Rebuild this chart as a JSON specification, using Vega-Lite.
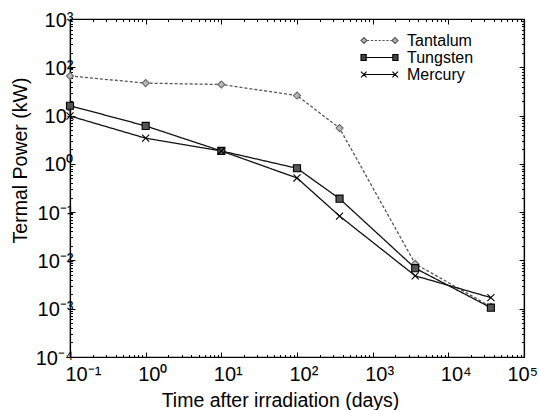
{
  "$schema": "https://vega.github.io/schema/vega-lite/v6.json",
  "width": 454,
  "height": 338,
  "autosize": {"type": "none"},
  "padding": {"left": 70, "top": 19, "right": 15, "bottom": 53},
  "background": "white",
  "config": {
    "view": {"stroke": "black", "strokeWidth": 1.2},
    "axis": {
      "domainColor": "black",
      "domainWidth": 1.2,
      "tickColor": "black",
      "grid": false,
      "labelFont": "Liberation Sans",
      "labelFontSize": 20,
      "labelColor": "black",
      "titleFont": "Liberation Sans",
      "titleFontSize": 19.5,
      "titleFontWeight": "normal",
      "titleColor": "black"
    },
    "legend": {"labelFont": "Liberation Sans", "labelFontSize": 16, "labelColor": "black"}
  },
  "data": {
    "values": [
      {"material": "Tantalum", "days": 0.1, "power": 66},
      {"material": "Tantalum", "days": 1, "power": 47},
      {"material": "Tantalum", "days": 10, "power": 44},
      {"material": "Tantalum", "days": 100, "power": 26},
      {"material": "Tantalum", "days": 365, "power": 5.5},
      {"material": "Tantalum", "days": 3650, "power": 0.0085},
      {"material": "Tantalum", "days": 36500, "power": 0.0011},
      {"material": "Tungsten", "days": 0.1, "power": 16},
      {"material": "Tungsten", "days": 1, "power": 6.1},
      {"material": "Tungsten", "days": 10, "power": 1.85},
      {"material": "Tungsten", "days": 100, "power": 0.81},
      {"material": "Tungsten", "days": 365, "power": 0.19},
      {"material": "Tungsten", "days": 3650, "power": 0.0069},
      {"material": "Tungsten", "days": 36500, "power": 0.00105},
      {"material": "Mercury", "days": 0.1, "power": 9.8},
      {"material": "Mercury", "days": 1, "power": 3.4},
      {"material": "Mercury", "days": 10, "power": 1.85},
      {"material": "Mercury", "days": 100, "power": 0.51},
      {"material": "Mercury", "days": 365, "power": 0.083},
      {"material": "Mercury", "days": 3650, "power": 0.0048},
      {"material": "Mercury", "days": 36500, "power": 0.0017}
    ]
  },
  "layer": [
    {
      "mark": {"type": "line", "strokeWidth": 1.3},
      "encoding": {
        "x": {
          "field": "days", "type": "quantitative",
          "scale": {"type": "log", "domain": [0.1, 100000], "nice": false},
          "axis": {
            "orient": "bottom",
            "title": "Time after irradiation (days)",
            "titlePadding": 5,
            "titleAnchor": "middle",
            "titleX": 210,
            "values": [0.1,0.2,0.3,0.4,0.5,0.6,0.7,0.8,0.9,1,2,3,4,5,6,7,8,9,10,20,30,40,50,60,70,80,90,100,200,300,400,500,600,700,800,900,1000,2000,3000,4000,5000,6000,7000,8000,9000,10000,20000,30000,40000,50000,60000,70000,80000,90000,100000],
            "labelExpr": "abs(log(datum.value)/LN10 - round(log(datum.value)/LN10)) < 0.001 ? '10' + replace(replace(replace(replace(replace(replace(replace('' + round(log(datum.value)/LN10), '-', '⁻'), '0', '⁰'), '1', '¹'), '2', '²'), '3', '³'), '4', '⁴'), '5', '⁵') : ''",
            "labelOverlap": false,
            "labelFlush": false,
            "labelAlign": "left",
            "labelOffset": {"condition": [
              {"test": "datum.value > 50000", "value": -17},
              {"test": "datum.value < 0.15", "value": -5}
            ], "value": -8},
            "labelPadding": 12,
            "tickSize": {"condition": {"test": "abs(log(datum.value)/LN10 - round(log(datum.value)/LN10)) < 0.001", "value": -5}, "value": -2.5}
          }
        },
        "y": {
          "field": "power", "type": "quantitative",
          "scale": {"type": "log", "domain": [0.0001, 1000], "nice": false},
          "axis": {
            "orient": "left",
            "title": "Termal Power (kW)",
            "titlePadding": 5,
            "titleAnchor": "middle",
            "titleY": 141,
            "values": [0.0001,0.0002,0.0003,0.0004,0.0005,0.0006,0.0007,0.0008,0.0009,0.001,0.002,0.003,0.004,0.005,0.006,0.007,0.008,0.009,0.01,0.02,0.03,0.04,0.05,0.06,0.07,0.08,0.09,0.1,0.2,0.3,0.4,0.5,0.6,0.7,0.8,0.9,1,2,3,4,5,6,7,8,9,10,20,30,40,50,60,70,80,90,100,200,300,400,500,600,700,800,900,1000],
            "labelExpr": "abs(log(datum.value)/LN10 - round(log(datum.value)/LN10)) < 0.001 ? '10' + replace(replace(replace(replace(replace(replace(replace('' + round(log(datum.value)/LN10), '-', '⁻'), '0', '⁰'), '1', '¹'), '2', '²'), '3', '³'), '4', '⁴'), '5', '⁵') : ''",
            "labelOverlap": false,
            "labelFlush": false,
            "labelPadding": 2,
            "labelOffset": 1,
            "tickSize": {"condition": {"test": "abs(log(datum.value)/LN10 - round(log(datum.value)/LN10)) < 0.001", "value": -5}, "value": -2.5}
          }
        },
        "detail": {"field": "material"},
        "stroke": {"condition": {"test": "datum.material == 'Tantalum'", "value": "#555555"}, "value": "#111111"},
        "strokeDash": {"condition": {"test": "datum.material == 'Tantalum'", "value": [3, 2]}, "value": [1, 0]}
      }
    },
    {
      "mark": {"type": "point", "strokeWidth": 1.1, "size": 50, "opacity": 1},
      "encoding": {
        "x": {
          "field": "days", "type": "quantitative",
          "axis": {
            "orient": "top", "title": null, "labels": false,
            "values": [0.1,0.2,0.3,0.4,0.5,0.6,0.7,0.8,0.9,1,2,3,4,5,6,7,8,9,10,20,30,40,50,60,70,80,90,100,200,300,400,500,600,700,800,900,1000,2000,3000,4000,5000,6000,7000,8000,9000,10000,20000,30000,40000,50000,60000,70000,80000,90000,100000],
            "tickSize": {"condition": {"test": "abs(log(datum.value)/LN10 - round(log(datum.value)/LN10)) < 0.001", "value": -5}, "value": -2.5}
          }
        },
        "y": {
          "field": "power", "type": "quantitative",
          "axis": {
            "orient": "right", "title": null, "labels": false,
            "values": [0.0001,0.0002,0.0003,0.0004,0.0005,0.0006,0.0007,0.0008,0.0009,0.001,0.002,0.003,0.004,0.005,0.006,0.007,0.008,0.009,0.01,0.02,0.03,0.04,0.05,0.06,0.07,0.08,0.09,0.1,0.2,0.3,0.4,0.5,0.6,0.7,0.8,0.9,1,2,3,4,5,6,7,8,9,10,20,30,40,50,60,70,80,90,100,200,300,400,500,600,700,800,900,1000],
            "tickSize": {"condition": {"test": "abs(log(datum.value)/LN10 - round(log(datum.value)/LN10)) < 0.001", "value": -5}, "value": -2.5}
          }
        },
        "shape": {"condition": [
          {"test": "datum.material == 'Tantalum'", "value": "diamond"},
          {"test": "datum.material == 'Tungsten'", "value": "square"}
        ], "value": "M-1,-1L1,1M-1,1L1,-1"},
        "fill": {"condition": [{"test": "datum.material == 'Tantalum'", "value": "#bbbbbb"}, {"test": "datum.material == 'Tungsten'", "value": "#555555"}], "value": "transparent"},
        "stroke": {"condition": {"test": "datum.material == 'Tantalum'", "value": "#666666"}, "value": "#000000"}
      }
    },
    {
      "mark": {"type": "point", "opacity": 0, "strokeWidth": 1.1},
      "encoding": {
        "x": {"field": "days", "type": "quantitative", "axis": null},
        "y": {"field": "power", "type": "quantitative", "axis": null},
        "shape": {
          "field": "material", "type": "nominal",
          "scale": {"domain": ["Tantalum", "Tungsten", "Mercury"], "range": [
            "M-1,0L-0.84,-0.16L-0.68,0L-0.84,0.16Z M0.68,0L0.84,-0.16L1,0L0.84,0.16Z M-0.68,0H-0.56M-0.47,0H-0.35M-0.26,0H-0.14M-0.05,0H0.07M0.16,0H0.28M0.37,0H0.49M0.58,0H0.68",
            "M-1,-0.16H-0.72V0.16H-1Z M0.72,-0.16H1V0.16H0.72Z M-0.72,0H0.72",
            "M-1,-0.15L-0.7,0.15M-1,0.15L-0.7,-0.15 M0.7,-0.15L1,0.15M0.7,0.15L1,-0.15 M-0.85,0H0.85"
          ]},
          "legend": {
            "title": null,
            "orient": "none",
            "legendX": 290,
            "legendY": 13,
            "padding": 0,
            "symbolSize": 1369,
            "symbolOpacity": 1,
            "clipHeight": 17,
            "rowPadding": 0,
            "labelOffset": 8,
            "symbolStrokeWidth": 1.1
          }
        },
        "fill": {
          "field": "material", "type": "nominal",
          "scale": {"domain": ["Tantalum", "Tungsten", "Mercury"], "range": ["#bbbbbb", "#444444", "transparent"]}
        },
        "stroke": {
          "field": "material", "type": "nominal",
          "scale": {"domain": ["Tantalum", "Tungsten", "Mercury"], "range": ["#555555", "#000000", "#000000"]}
        }
      }
    }
  ],
  "resolve": {"axis": {"x": "independent", "y": "independent"}}
}
